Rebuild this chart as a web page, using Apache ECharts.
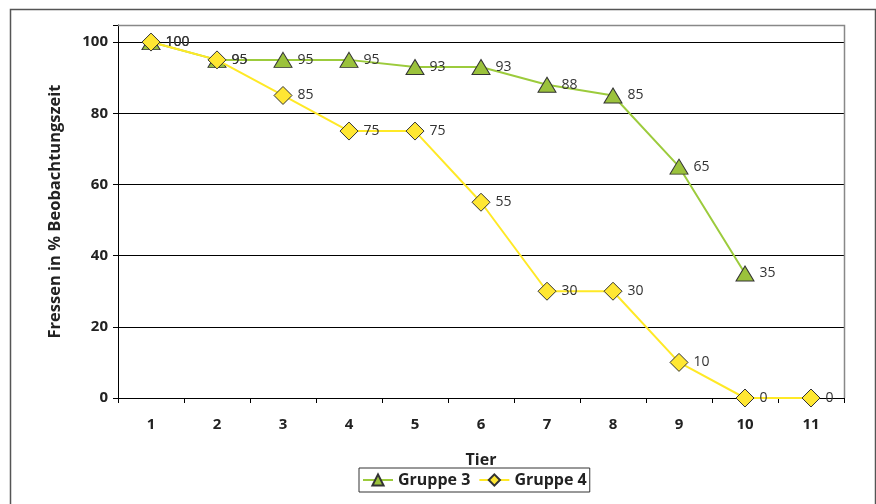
<!DOCTYPE html>
<html>
<head>
<meta charset="utf-8">
<script src="https://cdn.jsdelivr.net/npm/echarts@6/dist/echarts.min.js"></script>
<style>
  html, body { margin: 0; padding: 0; background: #fff; }
  #chart { width: 876px; height: 504px; }
</style>
</head>
<body>
<div id="chart"></div>
<script>
// Feeding time per animal, share of observation time (%)
const tiere = ['1', '2', '3', '4', '5', '6', '7', '8', '9', '10', '11'];
const gruppe3 = [100, 95, 95, 95, 93, 93, 88, 85, 65, 35, null];
const gruppe4 = [100, 95, 85, 75, 75, 55, 30, 30, 10, 0, 0];
const yTicks = [0, 20, 40, 60, 80, 100];

const FONT = '"Open Sans", "DejaVu Sans", sans-serif';

const chart = echarts.init(document.getElementById('chart'), null, { renderer: 'canvas' });

const labelStyle = {
  show: true,
  position: 'right',
  distance: 5,
  color: '#333',
  fontFamily: FONT,
  fontSize: 14
};

chart.setOption({
  animation: false,
  backgroundColor: '#fff',
  grid: { left: 118, right: 32, top: 25, bottom: 106, containLabel: false },
  xAxis: {
    type: 'category',
    data: tiere,
    boundaryGap: true,
    name: 'Tier',
    nameLocation: 'middle',
    nameGap: 54,
    nameTextStyle: { fontFamily: FONT, fontSize: 16, fontWeight: 'bold', color: '#222' },
    axisLine: { lineStyle: { color: '#000', width: 1 } },
    axisTick: { show: true, alignWithLabel: false, length: 5, lineStyle: { color: '#000' } },
    axisLabel: { margin: 19, fontFamily: FONT, fontSize: 15, fontWeight: 'bold', color: '#222' },
    splitLine: { show: false }
  },
  yAxis: {
    type: 'value',
    min: 0,
    max: 104.8,
    interval: 20,
    name: 'Fressen in % Beobachtungszeit',
    nameLocation: 'middle',
    nameGap: 54,
    nameTextStyle: { fontFamily: FONT, fontSize: 16.5, fontWeight: 'bold', color: '#222' },
    axisLine: { show: true, lineStyle: { color: '#000', width: 1 } },
    axisTick: { show: true, length: 5, lineStyle: { color: '#000' } },
    axisLabel: {
      margin: 10,
      fontFamily: FONT, fontSize: 15, fontWeight: 'bold', color: '#222',
      formatter: v => (yTicks.indexOf(v) >= 0 ? String(v) : '')
    },
    splitLine: { show: true, lineStyle: { color: '#000', width: 1 } }
  },
  legend: {
    left: 359,
    top: 468,
    itemWidth: 30,
    itemHeight: 14,
    itemGap: 8,
    padding: [4, 3, 4, 3],
    borderColor: '#333',
    borderWidth: 1,
    textStyle: { fontFamily: FONT, fontSize: 16, fontWeight: 'bold', color: '#222', padding: [0, 0, 0, 0] },
    data: ['Gruppe 3', 'Gruppe 4']
  },
  graphic: [
    {
      type: 'rect', silent: true, z: 100,
      shape: { x: 10.5, y: 9.5, width: 865, height: 510 },
      style: { fill: 'none', stroke: '#555', lineWidth: 1.5 }
    },
    {
      type: 'polyline', silent: true, z: 100,
      shape: { points: [[118, 25.5], [844.5, 25.5], [844.5, 398]] },
      style: { fill: 'none', stroke: '#888', lineWidth: 1.5 }
    }
  ],
  series: [
    {
      name: 'Gruppe 3',
      type: 'line',
      data: gruppe3,
      symbol: 'triangle',
      symbolSize: [18, 15],
      showAllSymbol: true,
      lineStyle: { color: '#9ccb3c', width: 2 },
      itemStyle: { color: '#9bc23c', borderColor: '#333', borderWidth: 1 },
      label: labelStyle,
      z: 3
    },
    {
      name: 'Gruppe 4',
      type: 'line',
      data: gruppe4,
      symbol: 'diamond',
      symbolSize: [18, 18],
      showAllSymbol: true,
      lineStyle: { color: '#ffe926', width: 2 },
      itemStyle: { color: '#ffe733', borderColor: '#333', borderWidth: 1 },
      label: labelStyle,
      z: 4
    }
  ]
});
</script>
</body>
</html>
